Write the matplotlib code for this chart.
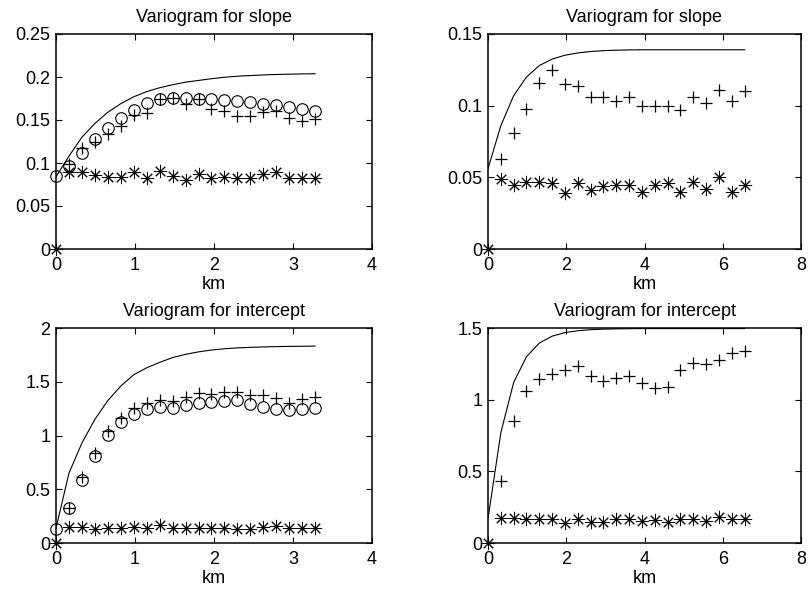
import matplotlib
matplotlib.use("Agg")
import matplotlib.pyplot as plt
from matplotlib.ticker import FuncFormatter

plt.rcParams['font.family'] = ['Liberation Sans', 'DejaVu Sans']
plt.rcParams['font.size'] = 13

# ---------------- data ----------------
titles = ["Variogram for slope", "Variogram for slope",
          "Variogram for intercept", "Variogram for intercept"]
xlabel = "km"

lags_a = [0, 0.164, 0.328, 0.492, 0.656, 0.82, 0.984, 1.148, 1.312, 1.476, 1.64,
          1.804, 1.968, 2.132, 2.296, 2.46, 2.624, 2.788, 2.952, 3.116, 3.28]
lags_b = [0, 0.328, 0.656, 0.984, 1.312, 1.64, 1.968, 2.296, 2.624, 2.952, 3.28,
          3.608, 3.936, 4.264, 4.592, 4.92, 5.248, 5.576, 5.904, 6.232, 6.56]

# panel 1 (slope, short range)
line1 = [0.084, 0.108, 0.130, 0.146, 0.159, 0.169, 0.177, 0.183, 0.1875, 0.191, 0.194,
         0.196, 0.198, 0.1997, 0.2009, 0.2017, 0.2024, 0.2029, 0.2033, 0.2036, 0.2038]
circ1 = [0.085, 0.096, 0.112, 0.128, 0.141, 0.152, 0.162, 0.170, 0.175, 0.176, 0.176,
         0.175, 0.174, 0.173, 0.172, 0.171, 0.169, 0.167, 0.165, 0.163, 0.161]
plus1 = [0.099, 0.117, 0.125, 0.134, 0.143, 0.156, 0.158, 0.175, 0.176, 0.169,
         0.175, 0.163, 0.161, 0.155, 0.155, 0.159, 0.160, 0.152, 0.149, 0.151]
ast1 = [0, 0.090, 0.090, 0.086, 0.084, 0.084, 0.089, 0.083, 0.091, 0.085, 0.080,
        0.087, 0.082, 0.084, 0.082, 0.083, 0.087, 0.090, 0.082, 0.082, 0.082]

# panel 2 (slope, long range)
line2 = [0.056, 0.086, 0.107, 0.120, 0.128, 0.1325, 0.1352, 0.1368, 0.1378, 0.1384, 0.1387,
         0.1389, 0.139, 0.139, 0.139, 0.139, 0.139, 0.139, 0.139, 0.139, 0.139]
plus2 = [0.063, 0.081, 0.098, 0.116, 0.125, 0.115, 0.114, 0.106, 0.106, 0.103,
         0.106, 0.100, 0.100, 0.100, 0.097, 0.106, 0.102, 0.111, 0.103, 0.110]
ast2 = [0, 0.049, 0.045, 0.047, 0.047, 0.046, 0.039, 0.046, 0.041, 0.044, 0.045,
        0.045, 0.040, 0.045, 0.046, 0.040, 0.047, 0.042, 0.050, 0.040, 0.045]

# panel 3 (intercept, short range)
line3 = [0.137, 0.65, 0.93, 1.15, 1.325, 1.46, 1.565, 1.63, 1.68, 1.725, 1.755,
         1.778, 1.795, 1.807, 1.815, 1.82, 1.824, 1.827, 1.829, 1.83, 1.832]
circ3 = [0.13, 0.325, 0.59, 0.81, 1.008, 1.13, 1.20, 1.245, 1.264, 1.257, 1.28,
         1.303, 1.31, 1.322, 1.328, 1.297, 1.262, 1.245, 1.235, 1.25, 1.26]
plus3 = [0.327, 0.618, 0.835, 1.042, 1.165, 1.255, 1.305, 1.333, 1.323, 1.362,
         1.393, 1.384, 1.409, 1.409, 1.375, 1.375, 1.347, 1.306, 1.344, 1.362]
ast3 = [0, 0.148, 0.146, 0.132, 0.14, 0.135, 0.146, 0.14, 0.163, 0.14, 0.14,
        0.14, 0.14, 0.14, 0.132, 0.132, 0.146, 0.155, 0.135, 0.135, 0.135]

# panel 4 (intercept, long range)
line4 = [0.17, 0.77, 1.12, 1.30, 1.395, 1.443, 1.468, 1.481, 1.488, 1.492, 1.494,
         1.495, 1.496, 1.496, 1.496, 1.496, 1.496, 1.496, 1.496, 1.496, 1.496]
plus4 = [0.436, 0.849, 1.062, 1.142, 1.181, 1.207, 1.237, 1.168, 1.128, 1.152,
         1.162, 1.113, 1.078, 1.089, 1.206, 1.255, 1.248, 1.278, 1.323, 1.337]
ast4 = [0, 0.173, 0.173, 0.166, 0.166, 0.167, 0.143, 0.168, 0.148, 0.146, 0.164,
        0.168, 0.153, 0.159, 0.146, 0.168, 0.164, 0.154, 0.178, 0.17, 0.17]

xticks_a = [0, 1, 2, 3, 4]
xticks_b = [0, 2, 4, 6, 8]
yticks1 = [0, 0.05, 0.1, 0.15, 0.2, 0.25]
yticks2 = [0, 0.05, 0.1, 0.15]
yticks3 = [0, 0.5, 1, 1.5, 2]
yticks4 = [0, 0.5, 1, 1.5]

# ---------------- figure ----------------
fig = plt.figure(figsize=(8.1, 5.9), dpi=100)
positions = [
    [56/810, 1-249/590, 316/810, 215/590],
    [488/810, 1-249/590, 313/810, 215/590],
    [56/810, 1-543/590, 316/810, 215/590],
    [488/810, 1-543/590, 313/810, 215/590],
]

panels = [
    dict(lags=lags_a, line=line1, circ=circ1, plus=plus1, ast=ast1, xt=xticks_a, yt=yticks1),
    dict(lags=lags_b, line=line2, circ=None, plus=plus2, ast=ast2, xt=xticks_b, yt=yticks2),
    dict(lags=lags_a, line=line3, circ=circ3, plus=plus3, ast=ast3, xt=xticks_a, yt=yticks3),
    dict(lags=lags_b, line=line4, circ=None, plus=plus4, ast=ast4, xt=xticks_b, yt=yticks4),
]

fmt = FuncFormatter(lambda v, p: "%g" % v)
ast_marker = (8, 2, 0)

for pos, p, title in zip(positions, panels, titles):
    ax = fig.add_axes(pos)
    lags = p["lags"]
    ax.plot(lags, p["line"], color="black", lw=0.8, zorder=2)
    if p["circ"] is not None:
        ax.plot(lags, p["circ"], ls="none", marker="o", ms=8.3, mfc="none",
                mec="black", mew=0.8, clip_on=False, zorder=3)
    ax.plot(lags[1:], p["plus"], ls="none", marker="+", ms=9, mec="black",
            mew=0.9, clip_on=False, zorder=3)
    ax.plot(lags, p["ast"], ls="none", marker=ast_marker, ms=9.5, mec="black",
            mew=0.7, clip_on=False, zorder=3)
    ax.set_xlim(p["xt"][0], p["xt"][-1])
    ax.set_ylim(p["yt"][0], p["yt"][-1])
    ax.set_xticks(p["xt"])
    ax.set_yticks(p["yt"])
    ax.xaxis.set_major_formatter(fmt)
    ax.yaxis.set_major_formatter(fmt)
    ax.tick_params(direction="in", top=True, right=True, length=4, width=0.8,
                   labelsize=13)
    ax.tick_params(axis="x", pad=6)
    ax.tick_params(axis="y", pad=4)
    for s in ax.spines.values():
        s.set_linewidth(1.1)
    ax.set_title(title, fontsize=13, pad=9)
    ax.set_xlabel(xlabel, fontsize=13, labelpad=1)

fig.savefig("out.png", dpi=100)
